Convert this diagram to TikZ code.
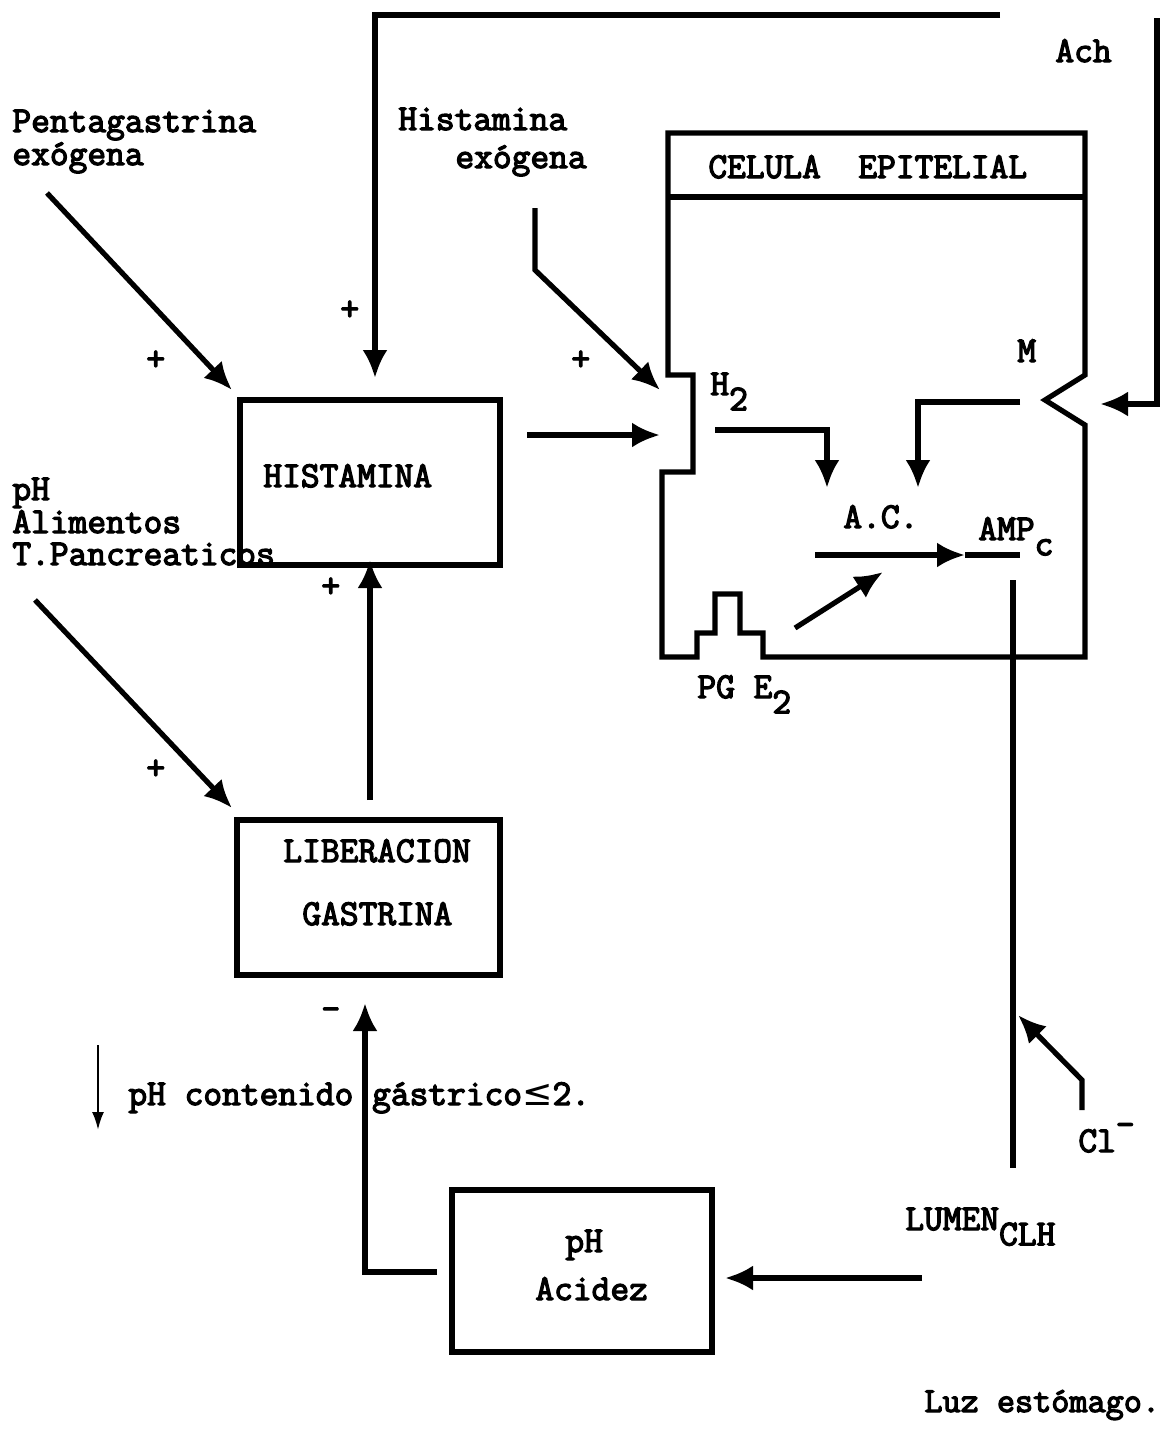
\documentclass[tikz,border=0pt]{standalone}
\usepackage{fontspec}
\newfontfamily\symfont{DejaVu Sans}
\newfontfamily\twfont[FakeBold=3.5]{Latin Modern Mono}
\usetikzlibrary{arrows.meta,fit}
\newcommand\lowr[1]{\raisebox{-0.42em}{#1}}
\tikzset{
  ln/.style={line width=2.6pt},
  arr/.style={line width=2.6pt,-{Latex[length=14pt,width=12.5pt]}},
  thinarr/.style={line width=1.2pt,-{Latex[length=9pt,width=6pt]}},
  box/.style={draw,line width=2.6pt,inner sep=0pt},
  txt/.style={anchor=base west,inner sep=0pt,font=\fontsize{18.2}{21}\selectfont\twfont},
}
\begin{document}
\begin{tikzpicture}[x=0.5pt,y=-0.5pt]
\useasboundingbox (0,0) rectangle (1174,1435);
% boxes
\coordinate (h1) at (240,400); \coordinate (h2) at (500,565);
\node[box,fit=(h1)(h2)] (hist) {};
\coordinate (g1) at (237,820); \coordinate (g2) at (500,975);
\node[box,fit=(g1)(g2)] (gast) {};
\coordinate (p1) at (452,1190); \coordinate (p2) at (712,1352);
\node[box,fit=(p1)(p2)] (acid) {};
% cell
\draw[ln] (668,375) -- (668,133) -- (1085,133) -- (1085,375) -- (1045,400) -- (1085,425)
  -- (1085,657) -- (763,657) -- (763,633) -- (740,633) -- (740,594) -- (715,594)
  -- (715,633) -- (697,633) -- (697,657) -- (662,657) -- (662,472) -- (693,472)
  -- (693,375) -- cycle;
\draw[ln] (668,197) -- (1085,197);
% texts
\node[txt] (ach) at (1055,62) {Ach};
\node[txt] (pg1) at (12,132) {Pentagastrina};
\node[txt] (pg2) at (12,165) {exógena};
\node[txt] (he1) at (398,130) {Histamina};
\node[txt] (he2) at (455,168) {exógena};
\node[txt] (cel) at (708,178) {CELULA\ \ EPITELIAL};
\node[txt] (pl1) at (340,320) {+};
\node[txt] (pl2) at (146,370) {+};
\node[txt] (pl3) at (571,370) {+};
\node[txt] (pl4) at (321,597) {+};
\node[txt] (pl5) at (146,779) {+};
\node[txt] (mn1) at (321,1020) {-};
\node[txt] (histt) at (263,487) {HISTAMINA};
\node[txt] (ph1) at (12,500) {pH};
\node[txt] (ph2) at (12,533) {Alimentos};
\node[txt] (ph3) at (12,565) {T.Pancreaticos};
\node[txt] (h2t) at (710,395) {H\lowr{2}};
\node[txt] (mt) at (1017,362) {M};
\node[txt] (act) at (843,528) {A.C.};
\node[txt] (ampt) at (978,540) {AMP\lowr{c}};
\node[txt] (pgt) at (697,698) {PG\ E\lowr{2}};
\node[txt] (libt) at (283,862) {LIBERACION};
\node[txt] (gast2) at (302,925) {GASTRINA};
\node[txt] (cont) at (128,1105) {pH contenido gástrico{\symfont ≤}2.};
\node[txt] (clt) at (1078,1152) {Cl\raisebox{0.45em}{-}};
\node[txt] (lum) at (905,1230) {LUMEN\lowr{CLH}};
\node[txt] (pht) at (565,1252) {pH};
\node[txt] (acit) at (535,1300) {Acidez};
\node[txt,font=\fontsize{17.6}{21}\selectfont\twfont] (luz) at (924,1412) {Luz estómago.};
% connector coordinates
\coordinate (t0) at (1000,15); \coordinate (t1) at (375,15); \coordinate (t2) at (375,378);
\coordinate (a0) at (1157,18); \coordinate (a1) at (1157,404); \coordinate (a2) at (1100,404);
\coordinate (q0) at (47,193); \coordinate (q1) at (232,390);
\coordinate (e0) at (535,208); \coordinate (e1) at (535,270); \coordinate (e2) at (660,390);
\coordinate (k0) at (527,435); \coordinate (k1) at (660,435);
\coordinate (r0) at (715,430); \coordinate (r1) at (827,430); \coordinate (r2) at (827,488);
\coordinate (m0) at (1020,402); \coordinate (m1) at (918,402); \coordinate (m2) at (918,488);
\coordinate (c0) at (815,555); \coordinate (c1) at (965,555); \coordinate (c2) at (1020,555);
\coordinate (s0) at (795,628); \coordinate (s1) at (883,572);
\coordinate (v0) at (1013,580); \coordinate (v1) at (1013,1168);
\coordinate (l0) at (1082,1110); \coordinate (l1) at (1082,1080); \coordinate (l2) at (1018,1015);
\coordinate (u0) at (922,1278); \coordinate (u1) at (725,1278);
\coordinate (b0) at (437,1272); \coordinate (b1) at (365,1272); \coordinate (b2) at (365,1003);
\coordinate (g3) at (370,800); \coordinate (g4) at (370,560);
\coordinate (n0) at (35,600); \coordinate (n1) at (232,808);
\coordinate (d0) at (98,1045); \coordinate (d1) at (98,1130);
% connectors
\draw[arr] (t0) -- (t1) -- (t2);
\draw[arr] (a0) -- (a1) -- (a2);
\draw[arr] (q0) -- (q1);
\draw[arr] (e0) -- (e1) -- (e2);
\draw[arr] (k0) -- (k1);
\draw[arr] (r0) -- (r1) -- (r2);
\draw[arr] (m0) -- (m1) -- (m2);
\draw[arr] (c0) -- (c1);
\draw[ln] (c1) -- (c2);
\draw[arr] (s0) -- (s1);
\draw[ln] (v0) -- (v1);
\draw[arr] (l0) -- (l1) -- (l2);
\draw[arr] (u0) -- (u1);
\draw[arr] (b0) -- (b1) -- (b2);
\draw[arr] (g3) -- (g4);
\draw[arr] (n0) -- (n1);
\draw[thinarr] (d0) -- (d1);
\end{tikzpicture}
\end{document}
